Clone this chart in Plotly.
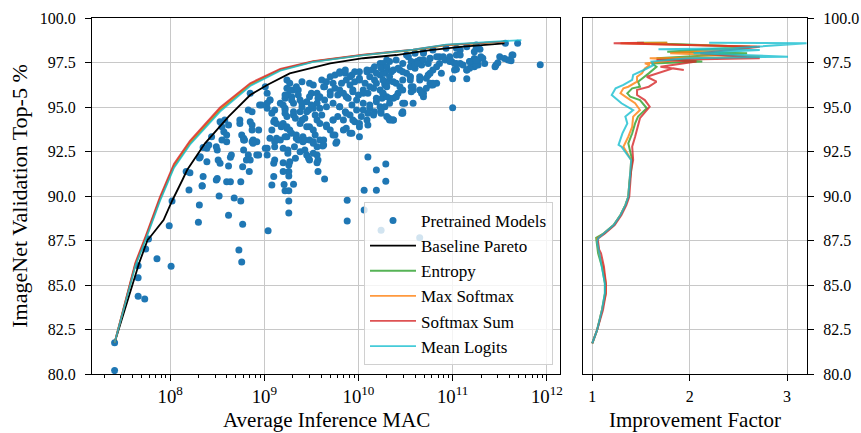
import plotly.graph_objects as go

# ---------------- data: pretrained models (log10 MAC, top-5 %) ----------------
pretrained_log10_mac = [
    7.41, 7.41, 7.66, 7.73, 7.66, 7.66, 7.74, 7.77, 7.86, 8.01, 7.99, 8.02, 8.20, 8.34, 8.31, 8.30,
    8.52, 8.49, 8.62, 8.68, 8.75, 8.77, 8.73, 8.76, 8.60, 8.64, 8.75, 9.04, 9.21, 9.22, 9.26, 9.26, 9.26,
    10.10, 10.29, 10.19, 10.29, 10.06, 10.19, 10.06, 9.88, 9.88, 10.24, 10.65, 9.31, 9.64, 9.57, 9.26,
    9.26, 9.26, 9.27, 9.20, 9.33, 9.56, 9.57, 9.56, 9.48, 9.20, 9.25, 9.38, 9.45, 9.47, 9.52, 9.36, 9.41,
    9.52, 9.62, 9.76,
    11.93, 11.00, 11.69, 11.56, 11.63, 11.59, 11.62, 11.46, 11.48, 11.34, 11.27, 11.23, 11.18, 11.15,
    11.15, 11.25, 11.29, 11.23, 11.08, 11.04, 11.02, 11.04, 11.00, 10.92, 10.86, 10.83, 10.79, 10.76,
    10.72, 10.77, 10.83, 10.69, 10.65, 10.58, 10.55, 10.53, 10.62, 10.69, 10.46, 10.49, 10.40, 10.37,
    10.35, 10.32,
    8.17, 8.21, 8.35, 8.34, 8.50, 8.77, 8.84, 9.10, 8.31, 8.39, 8.51, 8.53, 8.62, 8.64, 8.65, 8.39, 8.35,
    8.41, 8.50, 8.32, 8.78, 8.83, 8.85, 8.78, 8.87, 8.92, 8.92, 9.03, 9.03, 9.11, 9.11, 9.06, 9.13, 8.55,
    8.57, 8.60, 8.55, 8.60, 8.53, 8.58, 8.62, 8.74, 8.85, 8.87, 8.87, 8.76, 8.83, 8.87, 8.95, 9.03, 9.06,
    9.01, 9.03, 9.08, 9.11, 9.13, 9.20, 9.24, 9.24, 9.08, 9.11, 9.17, 9.24, 9.25, 9.22,
    8.44, 8.49, 8.79, 8.88, 8.81, 8.94, 9.10, 9.08, 9.20,
    9.80, 9.86, 9.93, 10.01, 10.09, 10.17, 10.23, 10.30, 9.61, 9.66, 9.70, 9.75, 9.63, 9.52, 9.50, 9.56,
    9.27, 9.31, 9.36, 9.29, 9.22, 9.38, 9.31, 9.40, 9.22, 9.22, 9.31, 9.45, 9.48, 9.47, 9.52, 9.56,
    9.59, 9.64, 9.70, 9.75, 9.66, 9.73, 9.78, 9.82, 9.87, 9.91, 9.96, 10.01, 10.07, 10.12, 10.17, 10.23,
    10.28, 10.31, 9.84, 9.89, 9.94, 10.00, 10.05, 10.10, 10.16, 10.23, 10.28, 10.31, 9.80, 9.86, 9.93,
    9.98, 10.05, 10.12, 10.19, 10.25, 10.30, 9.33, 9.38, 9.43, 9.48, 9.56, 9.61, 9.66, 9.73, 9.78, 9.84,
    9.91, 9.96, 10.03, 10.10, 10.17, 10.23, 9.24, 9.29, 9.22, 9.34, 9.41, 9.48, 9.54, 9.59, 9.63, 9.56,
    9.70, 9.75, 9.87, 9.93, 10.01, 10.10, 10.01,
    10.51, 10.60, 10.69, 10.79, 10.93, 11.04, 11.15, 11.25, 10.26, 10.33, 10.40, 10.47, 10.56, 10.65,
    10.76, 10.86, 10.97, 11.08, 10.26, 10.35, 10.44, 10.51, 10.60, 10.67, 10.74, 10.99, 11.08, 11.18,
    10.28, 10.37, 10.44, 10.55, 10.65, 10.76, 10.88, 11.02, 11.15, 11.22, 10.26, 10.33, 10.28, 10.42,
    10.58, 10.69, 10.79, 10.56, 10.24, 10.30, 10.33, 10.37, 10.47, 10.47,
    11.20, 11.23, 11.27, 11.30, 11.25, 11.50, 11.55, 11.61, 11.64, 11.45,
    9.48, 9.57, 9.50, 9.45, 9.54, 9.59, 9.70, 9.64, 9.73, 9.80, 9.86, 9.91, 9.96, 10.01, 10.09, 10.14,
    10.19, 10.24, 10.30, 10.37, 10.42, 10.47, 10.55, 10.60, 10.63, 10.69, 10.76, 10.83, 10.90, 10.97,
    11.04, 11.11, 11.18, 11.25, 11.32,
    9.80, 9.87, 9.94, 9.98, 10.05, 10.12, 10.19, 10.26, 10.33, 10.40, 9.80, 9.87, 9.94, 9.73, 9.66,
    9.59, 9.52, 9.45, 9.40, 9.38, 9.40, 9.36, 9.27, 9.22, 9.29, 9.20, 9.31, 9.24, 9.11, 9.10, 9.18,
    9.27, 9.34, 9.43, 9.52, 9.63, 9.73, 9.84, 9.91, 10.01, 10.09, 10.16, 10.24, 10.33, 10.40, 10.47,
    10.56, 10.65, 10.74, 10.79, 10.55, 10.47, 10.05, 10.12, 10.19, 10.26, 10.30, 10.37, 10.47, 10.58,
    10.67, 10.72, 9.24, 9.34, 9.40, 9.17, 9.06, 9.03,
    8.85, 8.97, 8.74, 8.94, 8.78, 8.88, 9.01, 9.25, 9.32, 9.43, 9.77,
]
pretrained_top5 = [
    81.76, 80.19, 84.37, 84.21, 85.41, 86.08, 87.02, 87.58, 86.48, 86.05, 88.33, 89.72, 90.34, 90.58, 89.49, 88.52,
    90.00, 90.90, 88.92, 89.89, 89.72, 88.41, 86.97, 86.29, 90.80, 90.80, 90.80, 88.05, 90.64, 90.30, 90.30, 89.72, 89.04,
    92.19, 91.80, 91.46, 90.83, 90.32, 90.32, 89.21, 89.76, 88.60, 88.07, 87.66, 90.66, 90.96, 91.37, 91.12,
    91.37, 91.74, 91.93, 91.87, 92.12, 92.30, 92.02, 91.87, 92.02, 92.68, 92.40, 92.49, 92.30, 92.12, 92.40, 93.15, 93.05,
    93.05, 92.81, 92.96,
    97.38, 94.96, 98.58, 98.58, 97.92, 97.64, 97.60, 97.36, 97.49, 97.45, 97.36, 97.26, 97.17, 97.08,
    96.59, 98.30, 98.24, 98.11, 98.20, 97.92, 97.45, 97.12, 96.59, 97.64, 97.45, 97.26, 97.08, 96.89,
    96.61, 96.24, 96.33, 95.58, 95.96, 96.14, 96.70, 97.83, 97.55, 98.02, 94.65, 95.21, 95.58, 95.49,
    94.27, 94.37,
    91.37, 91.31, 91.09, 90.56, 90.99, 91.65, 91.37, 91.09, 92.13, 91.93, 92.02, 91.84, 91.69, 92.17, 92.30, 92.68, 92.73,
    92.87, 92.58, 92.21, 92.58, 92.30, 92.02, 93.24, 93.05, 93.05, 92.30, 92.68, 92.30, 92.77, 92.02, 93.24, 93.24, 93.89,
    93.61, 93.43, 93.15, 93.05, 94.17, 94.27, 93.99, 94.08, 94.17, 93.99, 93.71, 93.43, 94.83, 94.74, 95.11, 95.21, 95.39,
    96.14, 95.77, 94.65, 94.27, 94.08, 94.08, 93.80, 93.33, 93.71, 93.05, 93.15, 96.05, 95.67, 94.83,
    93.33, 92.77, 93.15, 93.15, 92.02, 92.30, 91.84, 90.62, 91.37,
    96.98, 96.89, 96.80, 96.98, 97.08, 97.26, 97.45, 97.64, 96.52, 96.42, 96.70, 96.80, 96.14, 96.24, 95.77, 95.77,
    96.33, 95.96, 95.96, 95.58, 95.49, 95.39, 95.21, 95.02, 94.93, 94.65, 94.55, 95.30, 95.58, 94.83, 94.93, 95.21,
    95.58, 95.39, 95.86, 96.05, 95.02, 95.21, 95.67, 96.33, 96.52, 96.24, 96.42, 96.61, 96.33, 96.70, 96.52, 96.80,
    96.89, 97.08, 95.77, 95.49, 95.86, 95.67, 95.96, 95.77, 96.05, 95.96, 96.24, 96.42, 95.02, 94.74, 95.11,
    94.83, 95.21, 94.93, 95.30, 95.49, 95.58, 94.37, 94.08, 94.37, 93.89, 94.27, 94.55, 93.99, 94.27, 94.46, 94.27,
    94.55, 94.17, 94.46, 94.65, 94.74, 95.02, 93.89, 93.52, 93.33, 93.24, 93.33, 93.15, 93.43, 93.15, 92.87, 92.77,
    93.71, 93.43, 93.80, 93.52, 93.89, 93.99, 93.33,
    97.92, 98.02, 98.11, 98.20, 98.30, 98.30, 98.39, 98.48, 97.45, 97.55, 97.64, 97.45, 97.55, 97.64,
    97.73, 97.83, 97.83, 97.92, 96.89, 96.98, 97.08, 96.89, 97.17, 97.36, 97.45, 97.55, 97.45, 97.55,
    96.33, 96.42, 96.14, 96.52, 96.70, 96.33, 96.89, 97.08, 97.08, 97.45, 95.77, 95.49, 95.02, 95.77,
    95.96, 95.77, 96.24, 95.86, 94.65, 94.46, 94.27, 94.27, 95.21, 94.65,
    97.55, 97.73, 97.64, 97.83, 97.36, 97.83, 97.73, 97.64, 97.92, 97.26,
    96.33, 95.49, 95.11, 94.74, 94.55, 94.93, 95.67, 96.14, 96.33, 96.89, 97.08, 96.70, 96.98, 96.52, 96.98, 97.08,
    96.89, 97.17, 97.26, 97.08, 97.17, 96.98, 97.26, 97.36, 97.45, 97.64, 97.74, 97.83, 97.83, 97.55,
    97.45, 97.36, 97.55, 97.64, 97.74,
    95.96, 95.58, 95.96, 95.39, 95.77, 96.14, 96.33, 96.52, 96.70, 96.33, 95.02, 94.65, 94.27, 94.27, 93.89,
    94.08, 93.71, 93.89, 94.27, 94.74, 95.21, 95.67, 95.96, 95.67, 95.39, 95.11, 94.74, 94.46, 94.83, 94.17, 93.89,
    93.71, 93.43, 93.15, 92.96, 93.15, 93.43, 93.71, 93.52, 94.08, 94.27, 94.55, 94.83, 95.21, 95.58, 95.96,
    96.14, 96.52, 96.80, 96.33, 96.70, 96.52, 94.83, 95.11, 95.49, 95.77, 96.14, 94.27, 94.74, 95.21,
    95.77, 96.05, 96.52, 96.14, 96.42, 95.21, 95.39, 94.93,
    95.77, 95.11, 94.27, 93.71, 93.15, 92.96, 92.68, 92.58, 92.77, 92.58, 93.05,
]

# ---------------- data: Pareto fronts (log10 MAC, top-5 %) ----------------
baseline_log10_mac = [7.41, 7.67, 7.76, 7.79, 7.93, 8.02, 8.13, 8.18, 8.37, 8.62, 8.85, 9.03, 9.27,
                      9.70, 10.05, 10.40, 10.76, 11.11, 11.55]
baseline_top5 = [81.76, 86.22, 87.53, 87.71, 88.65, 89.72, 90.90, 91.46, 92.96, 94.46, 95.67, 96.24,
                 96.89, 97.45, 97.74, 97.92, 98.20, 98.39, 98.58]

cascade_log10_mac = [7.41, 7.63, 7.74, 7.89, 8.04, 8.21, 8.53, 8.85, 9.17, 9.52, 10.05, 10.58, 10.93, 11.55]
entropy_top5 =      [81.76, 86.12, 87.62, 89.78, 91.65, 92.96, 94.83, 96.24, 97.08, 97.55, 97.92, 98.20, 98.48, 98.67]
maxsoftmax_top5 =   [81.76, 86.18, 87.68, 89.84, 91.71, 93.02, 94.89, 96.28, 97.10, 97.56, 97.93, 98.21, 98.48, 98.67]
softmaxsum_top5 =   [81.76, 86.25, 87.75, 89.92, 91.80, 93.10, 94.97, 96.34, 97.14, 97.58, 97.94, 98.22, 98.49, 98.67]
meanlogits_log10_mac = [7.41, 7.63, 7.74, 7.89, 8.04, 8.21, 8.53, 8.85, 9.17, 9.52, 10.05, 10.58, 10.93, 11.55, 11.73]
meanlogits_top5 =   [81.76, 86.06, 87.55, 89.70, 91.58, 92.88, 94.74, 96.18, 97.04, 97.53, 97.92, 98.22, 98.50, 98.70, 98.76]

# ---------------- data: improvement factor vs top-5 % ----------------
entropy_acc = [81.72, 82.47, 83.60, 84.53, 85.10, 86.03, 86.78, 87.43, 87.65, 87.90, 88.37, 88.93, 89.49, 89.96,
               90.70, 91.46, 92.02, 92.96, 93.52, 94.08, 94.46, 94.93, 95.39, 95.58, 95.77, 96.05, 96.14, 96.42,
               96.61, 96.89, 97.26, 97.45, 97.55, 97.74, 98.02, 98.11, 98.39, 98.61, 98.61]
entropy_if = [1.00, 1.05, 1.10, 1.13, 1.13, 1.10, 1.06, 1.04, 1.04, 1.12, 1.22, 1.29, 1.34, 1.37,
              1.38, 1.40, 1.41, 1.37, 1.41, 1.44, 1.47, 1.56, 1.49, 1.39, 1.36, 1.41, 1.49, 1.47,
              1.51, 1.58, 1.66, 1.61, 2.13, 1.66, 2.59, 1.77, 2.62, 1.46, 1.77]

maxsoftmax_acc = [81.72, 82.47, 83.60, 84.53, 85.10, 86.03, 86.78, 87.43, 87.62, 87.90, 88.37, 88.93, 89.49, 89.96,
                  90.70, 91.46, 92.02, 92.77, 93.33, 93.89, 94.46, 94.83, 95.21, 95.58, 95.77, 96.05, 96.14, 96.42,
                  96.70, 96.89, 97.17, 97.36, 97.45, 97.64, 97.74, 97.83, 98.02, 98.39, 98.58, 98.61]
maxsoftmax_if = [1.00, 1.05, 1.10, 1.14, 1.14, 1.11, 1.07, 1.05, 1.05, 1.12, 1.22, 1.29, 1.34, 1.37,
                 1.38, 1.39, 1.40, 1.32, 1.37, 1.41, 1.42, 1.49, 1.44, 1.34, 1.29, 1.32, 1.37, 1.46,
                 1.46, 1.51, 1.54, 1.59, 1.54, 1.87, 1.59, 2.72, 1.80, 2.69, 1.29, 1.77]

softmaxsum_acc = [81.72, 82.47, 83.60, 84.53, 85.10, 86.03, 86.78, 87.00, 87.43, 87.62, 87.90, 88.37, 88.93, 89.49,
                  89.96, 90.70, 91.46, 92.02, 92.77, 93.33, 93.89, 94.37, 95.02, 95.39, 95.67, 95.96, 96.14, 96.42,
                  96.70, 96.89, 97.17, 97.08, 97.26, 97.55, 97.64, 97.74, 98.02, 98.39, 98.58, 98.61]
softmaxsum_if = [1.00, 1.05, 1.11, 1.14, 1.14, 1.12, 1.09, 1.07, 1.06, 1.06, 1.13, 1.23, 1.30, 1.35,
                 1.38, 1.39, 1.40, 1.42, 1.41, 1.44, 1.47, 1.49, 1.59, 1.54, 1.46, 1.46, 1.58, 1.66,
                 1.56, 1.66, 1.83, 1.94, 1.70, 2.07, 1.66, 2.72, 2.11, 2.72, 1.22, 1.53]

meanlogits_acc = [81.72, 82.47, 83.60, 84.53, 85.10, 86.03, 86.78, 87.43, 87.62, 87.90, 88.37, 88.93, 89.49, 89.96,
                  90.70, 91.46, 92.02, 92.77, 92.87, 93.52, 94.08, 94.46, 94.83, 95.21, 95.67, 96.05, 96.24, 96.52,
                  96.80, 97.08, 97.36, 97.55, 97.74, 97.83, 98.02, 98.20, 98.24, 98.30, 98.58, 98.61]
meanlogits_if = [1.00, 1.05, 1.10, 1.13, 1.13, 1.10, 1.07, 1.05, 1.06, 1.12, 1.22, 1.29, 1.34, 1.37,
                 1.38, 1.39, 1.40, 1.30, 1.27, 1.31, 1.36, 1.34, 1.42, 1.30, 1.20, 1.24, 1.32, 1.41,
                 1.42, 1.53, 1.63, 1.61, 1.97, 3.01, 2.04, 2.72, 1.68, 2.45, 3.20, 2.20]

y_ticks = [80.0, 82.5, 85.0, 87.5, 90.0, 92.5, 95.0, 97.5, 100.0]
if_ticks = [1, 2, 3]

# ---------------- styling ----------------
FONT = "Liberation Serif"
BLUE = "#1f77b4"
GREEN = "rgba(44,160,44,0.8)"
ORANGE = "rgba(255,127,14,0.8)"
RED = "rgba(214,39,40,0.8)"
CYAN = "rgba(23,190,207,0.8)"
GRID = "#c8c8c8"

fig = go.Figure()

fig.add_trace(go.Scatter(
    x=[10 ** v for v in pretrained_log10_mac], y=pretrained_top5, mode="markers",
    marker=dict(color=BLUE, size=7, line=dict(width=0)), name="Pretrained Models",
    xaxis="x", yaxis="y"))
fig.add_trace(go.Scatter(
    x=[10 ** v for v in baseline_log10_mac], y=baseline_top5, mode="lines",
    line=dict(color="black", width=1.8), name="Baseline Pareto", xaxis="x", yaxis="y"))

series = [
    ("Entropy", GREEN, cascade_log10_mac, entropy_top5, entropy_acc, entropy_if),
    ("Max Softmax", ORANGE, cascade_log10_mac, maxsoftmax_top5, maxsoftmax_acc, maxsoftmax_if),
    ("Softmax Sum", RED, cascade_log10_mac, softmaxsum_top5, softmaxsum_acc, softmaxsum_if),
    ("Mean Logits", CYAN, meanlogits_log10_mac, meanlogits_top5, meanlogits_acc, meanlogits_if),
]
for name, col, lm, acc, acc2, imp in series:
    fig.add_trace(go.Scatter(
        x=[10 ** v for v in lm], y=acc, mode="lines", line=dict(color=col, width=1.8),
        name=name, legendgroup=name, xaxis="x", yaxis="y"))
for name, col, lm, acc, acc2, imp in series:
    fig.add_trace(go.Scatter(
        x=imp, y=acc2, mode="lines", line=dict(color=col, width=2),
        name=name, legendgroup=name, showlegend=False, xaxis="x2", yaxis="y2"))

W, H = 861, 433
L, R, T, B = 92, 54, 18, 59
pw = W - L - R
ph = H - T - B
dom1 = [0, (560 - 92) / pw]
dom2 = [(583 - 92) / pw, 1]

axis_common = dict(showline=True, linecolor="black", linewidth=1.2, mirror=True,
                   gridcolor=GRID, gridwidth=1, zeroline=False, automargin=False,
                   ticks="outside", ticklen=6, tickwidth=1.2, tickcolor="black",
                   tickfont=dict(family=FONT, size=16, color="black"))
title_font = dict(family=FONT, size=21, color="black")
xtick_font = dict(family=FONT, size=15, color="black")

fig.update_layout(
    width=W, height=H, margin=dict(l=L, r=R, t=T, b=B),
    paper_bgcolor="white", plot_bgcolor="white",
    font=dict(family=FONT, color="black"),
    xaxis=dict(type="log", domain=dom1, range=[7.17, 12.14],
               dtick=1, exponentformat="power", ticklabelstandoff=0,
               minor=dict(ticks="outside", ticklen=3, tickwidth=1, tickcolor="black", dtick="D1",
                          showgrid=False),
               anchor="y", **{**axis_common, "tickfont": xtick_font}),
    yaxis=dict(range=[80, 100], tickvals=y_ticks, ticktext=[f"{v:.1f}" for v in y_ticks],
               ticklabelstandoff=6,
               title=dict(text="ImageNet Validation Top-5 %", font=dict(family=FONT, size=22, color="black"),
                          standoff=6),
               anchor="x", **axis_common),
    xaxis2=dict(domain=dom2, range=[0.905, 3.205], tickvals=if_ticks,
                ticklabelstandoff=2, anchor="y2", **axis_common),
    yaxis2=dict(range=[80, 100], tickvals=y_ticks, ticktext=[f"{v:.1f}" for v in y_ticks],
                ticklabelstandoff=6, side="right", anchor="x2", **axis_common),
    legend=dict(x=(553 - 92) / pw, y=(374 - 365) / ph, xanchor="right", yanchor="bottom",
                bgcolor="rgba(255,255,255,0.8)", bordercolor="#d0d0d0", borderwidth=1,
                font=dict(family=FONT, size=17, color="black"), tracegroupgap=0,
                itemwidth=46),
    showlegend=True,
    annotations=[
        dict(text="Average Inference MAC", xref="paper", yref="paper",
             x=(dom1[0] + dom1[1]) / 2, y=-(420 - 374) / ph, xanchor="center", yanchor="middle",
             showarrow=False, font=title_font, borderpad=0),
        dict(text="Improvement Factor", xref="paper", yref="paper",
             x=(dom2[0] + dom2[1]) / 2, y=-(420 - 374) / ph, xanchor="center", yanchor="middle",
             showarrow=False, font=title_font, borderpad=0),
    ],
)

fig.write_html("out.html")
